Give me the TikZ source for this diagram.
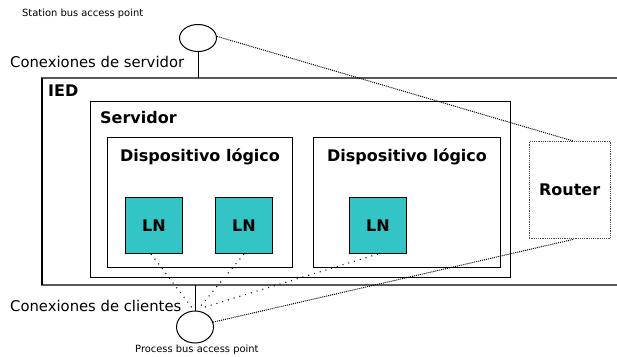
\documentclass[tikz,border=0pt]{standalone}
\usepackage{fontspec}
\setmainfont{DejaVu Sans}
\usetikzlibrary{shapes.geometric}
\definecolor{lncyan}{RGB}{51,197,197}
\begin{document}
\begin{tikzpicture}[x=1pt,y=-1pt,
  frame/.style={draw=black, line width=1.1pt, fill=white, inner sep=0pt, anchor=north west},
  lnbox/.style={draw=black, line width=1pt, fill=lncyan, minimum width=57pt, minimum height=56pt,
                inner sep=0pt, anchor=north west, font=\bfseries\fontsize{16}{18}\selectfont},
  title/.style={font=\bfseries\fontsize{16}{18}\selectfont, anchor=base, inner sep=0pt},
  caption/.style={font=\fontsize{14.8}{17}\selectfont, anchor=west, inner sep=0pt},
  note/.style={font=\fontsize{9.9}{12}\selectfont, anchor=base west, inner sep=0pt},
  ap/.style={draw=black, ellipse, line width=1pt, inner sep=0pt, fill=white},
  link/.style={draw=black, line width=1pt},
  bus/.style={draw=black, line width=1pt, densely dotted},
  lnlink/.style={draw=black, line width=1.1pt, dash pattern=on 1pt off 5pt}]
\useasboundingbox (0,0) rectangle (617,356);

% IED frame, open towards the right
\draw[draw=black!65, line width=1.4pt] (617,78) -- (42,78) -- (42,285) -- (617,285);
\draw[line width=1.3pt] (42,78) -- (42,285);
\node[title, anchor=base west] (ied) at (48,96) {IED};

% server and logical devices
\node[frame, minimum width=420pt, minimum height=176pt] (srv) at (90,101) {};
\node[title, anchor=base west] (srvlbl) at (100,123) {Servidor};
\node[frame, minimum width=185pt, minimum height=130pt] (ld1) at (107,137) {};
\node[frame, minimum width=187pt, minimum height=130pt] (ld2) at (313,137) {};
\node[title] (ld1lbl) at (ld1.north |- 0,161.5) {Dispositivo lógico};
\node[title] (ld2lbl) at (ld2.north |- 0,161.5) {Dispositivo lógico};

% logical nodes
\node[lnbox] (ln1) at (125,197) {LN};
\node[lnbox] (ln2) at (215,197) {LN};
\node[lnbox] (ln3) at (349,197) {LN};

% router
\node[draw=black!70, densely dotted, line width=1.2pt, fill=white, anchor=north west,
      minimum width=81pt, minimum height=97pt, inner sep=0pt,
      font=\bfseries\fontsize{16}{18}\selectfont] (rt) at (528.5,141) {Router};

% access points
\node[ap, minimum width=37pt, minimum height=27pt] (st) at (198,38) {};
\node[ap, minimum width=37pt, minimum height=32pt] (pb) at (195,327) {};
\coordinate (iedtop) at (198,78);
\coordinate (iedbot) at (195,285);
\draw[link] (st.south) -- (iedtop);
\draw[link] (iedbot) -- (pb.north);

% texts
\node[note] (stlbl) at (22,16.7) {Station bus access point};
\node[note] (pblbl) at (135,352.5) {Process bus access point};
\node[caption] (srvcon) at (10,62) {Conexiones de servidor};
\node[caption] (clicon) at (10,306) {Conexiones de clientes};

% client connections from the logical nodes
\coordinate (j1) at (193,309);
\coordinate (j2) at (199,308);
\coordinate (j3) at (205,307);
\draw[lnlink] (ln1.south) ++(-3pt,0) -- (j1);
\draw[lnlink] (ln2.south) -- (j2);
\draw[lnlink] (ln3.south) -- (j3);

% bus links through the router
\draw[bus] (st.5) -- ([xshift=3.5pt]rt.north);
\draw[bus] (pb.15) -- ([xshift=4.5pt]rt.south);
\end{tikzpicture}
\end{document}
